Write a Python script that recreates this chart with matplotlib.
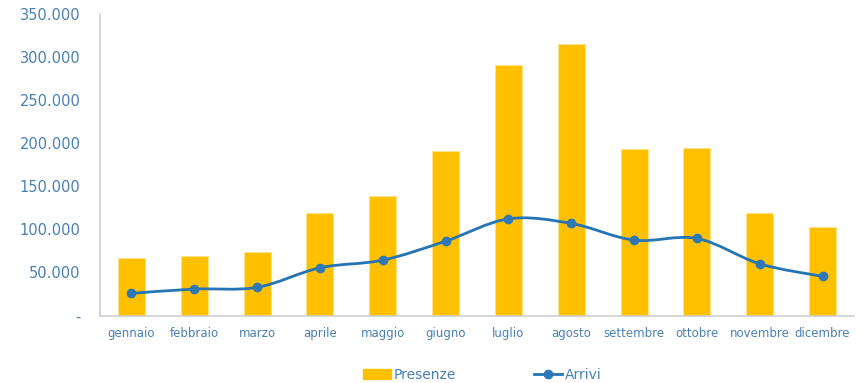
import matplotlib

matplotlib.use("Agg")

import matplotlib.pyplot as plt
import numpy as np
from matplotlib.lines import Line2D
from matplotlib.patches import Patch, PathPatch
from matplotlib.path import Path
from matplotlib.ticker import FuncFormatter

BAR = "#FFC000"
LINE = "#2474B6"
MARK = "#2E79B5"
TICK = "#4A80B4"
SPINE = "#D0D0D0"

mesi = ["gennaio", "febbraio", "marzo", "aprile", "maggio", "giugno",
        "luglio", "agosto", "settembre", "ottobre", "novembre", "dicembre"]
presenze = [66600, 69000, 73600, 118800, 138800, 190600,
            291100, 314700, 193000, 194100, 119200, 102200]
arrivi = [25700, 30700, 32700, 55400, 64300, 86300,
          112200, 106900, 87500, 89500, 60000, 45400]


def smooth_path(xs, ys):
    # Excel-style smoothed line: cubic Bezier through each point (Catmull-Rom tangents)
    pts = np.column_stack([xs, ys]).astype(float)
    n = len(pts)
    verts = [pts[0]]
    codes = [Path.MOVETO]
    for i in range(n - 1):
        p0 = pts[i - 1] if i > 0 else pts[i]
        p1 = pts[i]
        p2 = pts[i + 1]
        p3 = pts[i + 2] if i + 2 < n else pts[i + 1]
        verts += [p1 + (p2 - p0) / 6, p2 - (p3 - p1) / 6, p2]
        codes += [Path.CURVE4] * 3
    return Path(verts, codes)


def fmt(v, _pos):
    if v == 0:
        return "-"
    return f"{int(v):,}".replace(",", ".")


fig = plt.figure(figsize=(8.63, 3.83), dpi=100, facecolor="white")
ax = fig.add_axes([0.1159, 0.1762, 0.8737, 0.7872])

x = np.arange(len(mesi))
ax.bar(x, presenze, width=0.43, color=BAR, edgecolor="#FFE28A", linewidth=0.6, zorder=2)

ax.add_patch(PathPatch(smooth_path(x, arrivi), facecolor="none", edgecolor=LINE,
                       linewidth=2.0, zorder=3, capstyle="round"))
ax.plot(x, arrivi, linestyle="none", marker="o", markersize=6, color=MARK, zorder=4)

ax.set_xlim(-0.5, len(mesi) - 0.5)
ax.set_ylim(0, 350000)
ax.set_yticks(np.arange(0, 350001, 50000))
ax.yaxis.set_major_formatter(FuncFormatter(fmt))
ax.set_xticks(x)
ax.set_xticklabels(mesi)

ax.tick_params(axis="y", length=0, pad=14, labelsize=10.5, labelcolor=TICK)
ax.tick_params(axis="x", length=0, pad=8, labelsize=8.5, labelcolor=TICK)

for side in ["top", "right"]:
    ax.spines[side].set_visible(False)
for side in ["left", "bottom"]:
    ax.spines[side].set_color(SPINE)
    ax.spines[side].set_linewidth(1.2)

handles = [
    Patch(facecolor=BAR, edgecolor=BAR, label="Presenze"),
    Line2D([0], [0], color=LINE, linewidth=2.0, marker="o", markersize=6,
           markerfacecolor=MARK, markeredgecolor=MARK, label="Arrivi"),
]
leg = fig.legend(handles=handles, loc="center", bbox_to_anchor=(0.559, 0.022), ncol=2,
                 frameon=False, fontsize=10, handlelength=2.0, handletextpad=0.2,
                 columnspacing=5.6, labelcolor=TICK)

fig.savefig("out.png", dpi=100, facecolor="white")
plt.close(fig)
